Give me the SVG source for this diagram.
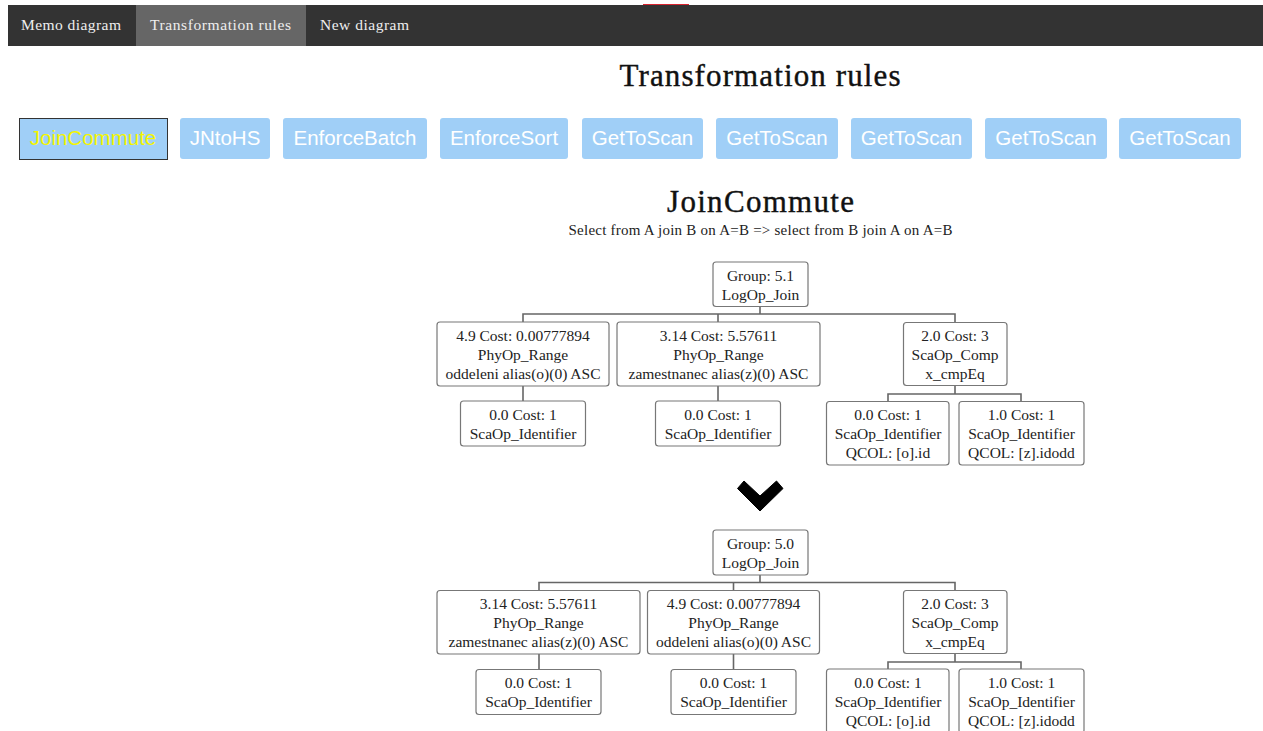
<svg xmlns="http://www.w3.org/2000/svg" width="1263" height="731" viewBox="0 0 1263 731">
<style>
.nav{font-family:"Liberation Serif",serif;font-size:15.5px;fill:#eeeeee}
.btn{fill:#a0cff7}
.btnt{font-family:"Liberation Sans",Arial,sans-serif;font-size:20.5px;fill:#ffffff;text-anchor:middle}
.h1{font-family:"Liberation Serif",serif;font-size:31px;fill:#111;text-anchor:middle;stroke:#111;stroke-width:0.4}
.h2{font-family:"Liberation Serif",serif;font-size:31px;fill:#111;text-anchor:middle;stroke:#111;stroke-width:0.4}
.sub{font-family:"Liberation Serif",serif;font-size:15px;fill:#222;text-anchor:middle}
.box{fill:#fff;stroke:#777;stroke-width:1.2}
.t{font-family:"Liberation Serif",serif;font-size:15.5px;fill:#222;text-anchor:middle}
.ln{fill:none;stroke:#666;stroke-width:1.6}
</style>
<rect width="1263" height="731" fill="#fff"/>
<g id="navbar">
<rect x="8" y="5" width="1255" height="41" fill="#333"/>
<rect x="136" y="5" width="170" height="41" fill="#666"/>
<line x1="643" y1="4.5" x2="689" y2="4.5" stroke="#d9232e" stroke-width="1"/>
<text class="nav" x="21" y="30" textLength="100">Memo diagram</text>
<text class="nav" x="150" y="30" textLength="141">Transformation rules</text>
<text class="nav" x="320" y="30" textLength="89">New diagram</text>
</g>
<text class="h1" x="760" y="86" textLength="281">Transformation rules</text>
<g id="buttons">
<rect x="19.5" y="118.5" width="148" height="41" fill="#a0cff7" stroke="#333" stroke-width="1"/>
<text class="btnt" x="93" y="145" style="fill:#f5f500">JoinCommute</text>
<rect class="btn" x="180" y="118" width="90" height="41" rx="3"/>
<text class="btnt" x="225" y="145">JNtoHS</text>
<rect class="btn" x="283" y="118" width="144" height="41" rx="3"/>
<text class="btnt" x="355" y="145">EnforceBatch</text>
<rect class="btn" x="440" y="118" width="128" height="41" rx="3"/>
<text class="btnt" x="504" y="145">EnforceSort</text>
<rect class="btn" x="582" y="118" width="121" height="41" rx="3"/>
<text class="btnt" x="642.5" y="145">GetToScan</text>
<rect class="btn" x="716" y="118" width="122" height="41" rx="3"/>
<text class="btnt" x="777" y="145">GetToScan</text>
<rect class="btn" x="851" y="118" width="121" height="41" rx="3"/>
<text class="btnt" x="911.5" y="145">GetToScan</text>
<rect class="btn" x="985" y="118" width="122" height="41" rx="3"/>
<text class="btnt" x="1046" y="145">GetToScan</text>
<rect class="btn" x="1119" y="118" width="122" height="41" rx="3"/>
<text class="btnt" x="1180" y="145">GetToScan</text>
</g>
<text class="h2" x="760.5" y="212" textLength="187">JoinCommute</text>
<text class="sub" x="760.5" y="235" textLength="384">Select from A join B on A=B =&gt; select from B join A on A=B</text>

<g id="connectors">
<path class="ln" d="M760,306.5V314M523,322V314H955V322M718,314V322M523,386V401M718,386V401M955,385.5V394M888,401.5V394H1021V401.5"/>
<path class="ln" d="M760,575V582.5M539,590.5V582.5H955V590.5M733.5,582.5V590.5M539,654V669M733.5,654V669M955,653.5V662M888,669V662H1021V669"/>
</g>

<g id="n1-root"><rect class="box" x="713" y="262" width="95" height="44.5" rx="3"/><text class="t" x="760.5" y="281">Group: 5.1</text><text class="t" x="760.5" y="300">LogOp_Join</text></g>
<g id="n1-a"><rect class="box" x="437" y="322" width="172" height="64" rx="3"/><text class="t" x="523" y="341">4.9 Cost: 0.00777894</text><text class="t" x="523" y="360">PhyOp_Range</text><text class="t" x="523" y="379">oddeleni alias(o)(0) ASC</text></g>
<g id="n1-b"><rect class="box" x="617" y="322" width="203" height="64" rx="3"/><text class="t" x="718.5" y="341">3.14 Cost: 5.57611</text><text class="t" x="718.5" y="360">PhyOp_Range</text><text class="t" x="718.5" y="379">zamestnanec alias(z)(0) ASC</text></g>
<g id="n1-c"><rect class="box" x="903.5" y="322.5" width="103.5" height="63" rx="3"/><text class="t" x="955" y="341">2.0 Cost: 3</text><text class="t" x="955" y="360">ScaOp_Comp</text><text class="t" x="955" y="379">x_cmpEq</text></g>
<g id="n1-a1"><rect class="box" x="460.5" y="401" width="125" height="45" rx="3"/><text class="t" x="523" y="420">0.0 Cost: 1</text><text class="t" x="523" y="439">ScaOp_Identifier</text></g>
<g id="n1-b1"><rect class="box" x="655.5" y="401" width="125" height="45" rx="3"/><text class="t" x="718" y="420">0.0 Cost: 1</text><text class="t" x="718" y="439">ScaOp_Identifier</text></g>
<g id="n1-c1"><rect class="box" x="826.5" y="401.5" width="122.5" height="63.5" rx="3"/><text class="t" x="888" y="420">0.0 Cost: 1</text><text class="t" x="888" y="439">ScaOp_Identifier</text><text class="t" x="888" y="458">QCOL: [o].id</text></g>
<g id="n1-c2"><rect class="box" x="959" y="401.5" width="125" height="63.5" rx="3"/><text class="t" x="1021.5" y="420">1.0 Cost: 1</text><text class="t" x="1021.5" y="439">ScaOp_Identifier</text><text class="t" x="1021.5" y="458">QCOL: [z].idodd</text></g>

<g id="chevron"><polygon points="737.5,488.5 744,481 760,496 776.5,481 783,488.5 760,511" fill="#000" stroke="#000" stroke-width="1" stroke-linejoin="round"/></g>

<g id="n2-root"><rect class="box" x="713" y="530" width="95" height="45" rx="3"/><text class="t" x="760.5" y="549">Group: 5.0</text><text class="t" x="760.5" y="568">LogOp_Join</text></g>
<g id="n2-a"><rect class="box" x="437" y="590.5" width="203" height="63.5" rx="3"/><text class="t" x="538.5" y="609">3.14 Cost: 5.57611</text><text class="t" x="538.5" y="628">PhyOp_Range</text><text class="t" x="538.5" y="647">zamestnanec alias(z)(0) ASC</text></g>
<g id="n2-b"><rect class="box" x="647.5" y="590.5" width="172" height="63.5" rx="3"/><text class="t" x="733.5" y="609">4.9 Cost: 0.00777894</text><text class="t" x="733.5" y="628">PhyOp_Range</text><text class="t" x="733.5" y="647">oddeleni alias(o)(0) ASC</text></g>
<g id="n2-c"><rect class="box" x="903.5" y="590.5" width="103.5" height="63" rx="3"/><text class="t" x="955" y="609">2.0 Cost: 3</text><text class="t" x="955" y="628">ScaOp_Comp</text><text class="t" x="955" y="647">x_cmpEq</text></g>
<g id="n2-a1"><rect class="box" x="476" y="669.5" width="125" height="45" rx="3"/><text class="t" x="538.5" y="688">0.0 Cost: 1</text><text class="t" x="538.5" y="707">ScaOp_Identifier</text></g>
<g id="n2-b1"><rect class="box" x="671" y="669.5" width="125" height="45" rx="3"/><text class="t" x="733.5" y="688">0.0 Cost: 1</text><text class="t" x="733.5" y="707">ScaOp_Identifier</text></g>
<g id="n2-c1"><rect class="box" x="826.5" y="669" width="122.5" height="64" rx="3"/><text class="t" x="888" y="688">0.0 Cost: 1</text><text class="t" x="888" y="707">ScaOp_Identifier</text><text class="t" x="888" y="726">QCOL: [o].id</text></g>
<g id="n2-c2"><rect class="box" x="959" y="669" width="125" height="64" rx="3"/><text class="t" x="1021.5" y="688">1.0 Cost: 1</text><text class="t" x="1021.5" y="707">ScaOp_Identifier</text><text class="t" x="1021.5" y="726">QCOL: [z].idodd</text></g>
</svg>
